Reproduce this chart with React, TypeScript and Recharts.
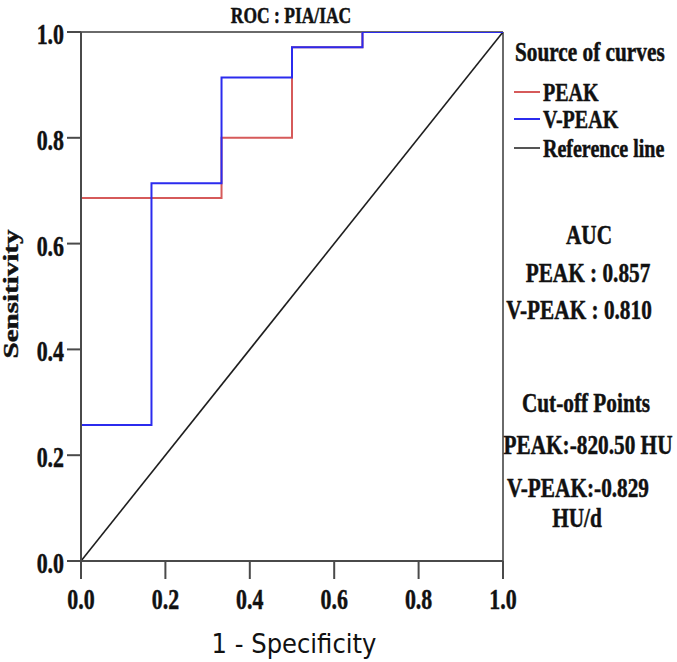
import React from 'react';
import { LineChart, Line, XAxis, YAxis, ReferenceLine } from 'recharts';

// ROC points (1 - specificity, sensitivity)
const peakFpr = [0, 0, 0.333, 0.5, 0.667, 1];
const peakTpr = [0, 0.686, 0.8, 0.971, 1, 1];
const vpeakFpr = [0, 0, 0.167, 0.333, 0.5, 0.667, 1];
const vpeakTpr = [0, 0.257, 0.714, 0.914, 0.971, 1, 1];
const refFpr = [0, 1];
const refTpr = [0, 1];

const axisTicks = [0, 0.2, 0.4, 0.6, 0.8, 1];
const seriesNames = ['PEAK', 'V-PEAK', 'Reference line'];
const seriesColors = ['#d65a5a', '#2b2bee', '#1e1e1e'];
const aucLines = ['AUC', 'PEAK : 0.857', 'V-PEAK : 0.810'];
const cutoffLines = ['Cut-off Points', 'PEAK:-820.50 HU', 'V-PEAK:-0.829', 'HU/d'];

const toPoints = (xs: number[], ys: number[]) => xs.map((x, i) => ({ x, y: ys[i] }));
const peakData = toPoints(peakFpr, peakTpr);
const vpeakData = toPoints(vpeakFpr, vpeakTpr);
const refData = toPoints(refFpr, refTpr);

const SERIF = '"Liberation Serif", "Times New Roman", serif';

// bold serif text, squeezed horizontally like the source image
const SText = ({ x, y, size = 28, anchor = 'middle', sx = 0.76, children }: any) => (
  <g transform={`translate(${x},${y}) scale(${sx},1)`}>
    <text x={0} y={0} textAnchor={anchor} fontFamily={SERIF} fontWeight="bold" fontSize={size}
      fill="#111" stroke="#111" strokeWidth={0.5}>
      {children}
    </text>
  </g>
);

const YTick = (props: any) => {
  const { x, y, payload } = props;
  return <SText x={x} y={y + 12} size={30} sx={0.73} anchor="end">{payload.value.toFixed(1)}</SText>;
};

const XTick = (props: any) => {
  const { x, y, payload } = props;
  return <SText x={x} y={y + 28} size={30} sx={0.73}>{payload.value.toFixed(1)}</SText>;
};

const axisStyle = { stroke: '#4a4a4a', strokeWidth: 2 };

export default function App() {
  const aucY = [244, 282, 319];
  const aucX = [589, 588, 579];
  const cutY = [412, 454, 497, 527];
  const cutX = [586, 588, 578, 577];
  const legendY = [92, 119, 148];

  return (
    <div style={{ position: 'absolute', left: 0, top: 0, width: 677, height: 662, background: '#fff' }}>
      <LineChart width={677} height={662} margin={{ top: 32, right: 174, bottom: 41, left: 11 }}>
        <XAxis
          type="number"
          dataKey="x"
          domain={[0, 1]}
          ticks={axisTicks}
          height={60}
          tickSize={18}
          tickMargin={2}
          axisLine={axisStyle}
          tickLine={axisStyle}
          tick={<XTick />}
          allowDataOverflow
        />
        <YAxis
          type="number"
          dataKey="y"
          domain={[0, 1]}
          ticks={axisTicks}
          width={70}
          tickSize={14}
          tickMargin={3}
          axisLine={axisStyle}
          tickLine={axisStyle}
          tick={<YTick />}
          allowDataOverflow
        />
        <ReferenceLine y={1} stroke="#6a6a6a" strokeWidth={2} />
        <ReferenceLine x={1} stroke="#6a6a6a" strokeWidth={2} />
        <Line data={refData} dataKey="y" type="linear" stroke={seriesColors[2]} strokeWidth={1.6} dot={false} activeDot={false} isAnimationActive={false} />
        <Line data={peakData} dataKey="y" type="stepAfter" stroke={seriesColors[0]} strokeWidth={2} dot={false} activeDot={false} isAnimationActive={false} />
        <Line data={vpeakData} dataKey="y" type="stepAfter" stroke={seriesColors[1]} strokeWidth={2} dot={false} activeDot={false} isAnimationActive={false} />
      </LineChart>

      <svg width={677} height={662} style={{ position: 'absolute', left: 0, top: 0, pointerEvents: 'none' }}>
        <SText x={291} y={23} size={23} sx={0.76}>ROC : PIA/IAC</SText>

        {/* legend */}
        <SText x={515} y={61} anchor="start">Source of curves</SText>
        {seriesNames.map((name, i) => (
          <g key={name}>
            <line x1={514} x2={540} y1={legendY[i]} y2={legendY[i]} stroke={i === 2 ? '#555' : seriesColors[i]} strokeWidth={2} />
            <SText x={543} y={legendY[i] + 9} size={26} sx={0.77} anchor="start">{name}</SText>
          </g>
        ))}

        {aucLines.map((t, i) => (
          <SText key={t} x={aucX[i]} y={aucY[i]}>{t}</SText>
        ))}
        {cutoffLines.map((t, i) => (
          <SText key={t} x={cutX[i]} y={cutY[i]}>{t}</SText>
        ))}

        <g transform="translate(294,653) scale(0.9,1)">
          <text x={0} y={0} textAnchor="middle" fontFamily='"DejaVu Sans", sans-serif' fontSize={27} fill="#111">
            1 - Specificity
          </text>
        </g>
        <g transform="translate(11,294) rotate(-90) scale(1.45,1)">
          <text x={0} y={7} textAnchor="middle" fontFamily={SERIF} fontWeight="bold" fontSize={20}
            fill="#111" stroke="#111" strokeWidth={0.4}>
            Sensitivity
          </text>
        </g>
      </svg>
    </div>
  );
}
